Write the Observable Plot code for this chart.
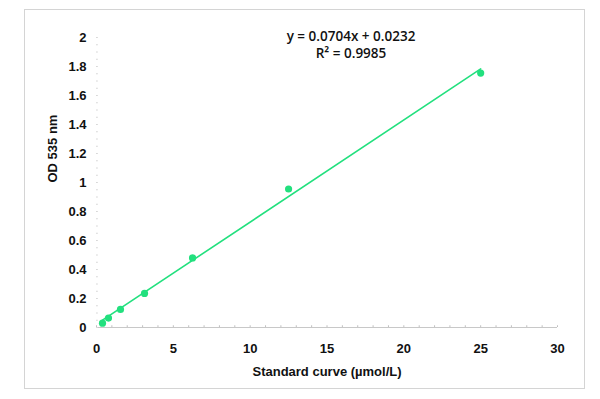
<!DOCTYPE html>
<html><head><meta charset="utf-8">
<script src="https://cdn.jsdelivr.net/npm/d3@7"></script>
<script src="https://cdn.jsdelivr.net/npm/@observablehq/plot@0.6"></script>
<style>
body{margin:0;background:#fff;font-family:"Liberation Sans",Arial,sans-serif;}
#wrap{position:relative;width:600px;height:399px;}
#frame{position:absolute;left:24px;top:9px;width:559px;height:378px;border:1px solid #d4d4d4;pointer-events:none;}
</style></head>
<body><div id="wrap"><div id="frame"></div></div>
<script>
const concentration = [0.39, 0.78, 1.56, 3.125, 6.25, 12.5, 25];
const od = [0.03, 0.065, 0.125, 0.235, 0.48, 0.955, 1.755];
const slope = 0.0704, intercept = 0.0232;
const fitX = [0.39, 25];
const xTicks = [0, 5, 10, 15, 20, 25, 30];
const yTicks = [0, 0.2, 0.4, 0.6, 0.8, 1, 1.2, 1.4, 1.6, 1.8, 2];
const minorX = d3.range(0, 30.01, 1);
const minorY = d3.range(0, 2.001, 0.05);
const equation = "y = 0.0704x + 0.0232";
const r2 = "R² = 0.9985";

const pts = concentration.map((c, i) => ({x: c, y: od[i]}));
const fit = fitX.map(x => ({x, y: slope * x + intercept}));
const green = "#22e07e";

const chart = Plot.plot({
  width: 600, height: 399,
  marginLeft: 96, marginRight: 43, marginTop: 37, marginBottom: 72,
  style: {fontFamily: "'Liberation Sans', Arial, sans-serif", background: "transparent", overflow: "visible"},
  x: {type: "linear", domain: [0, 30], label: null},
  y: {type: "linear", domain: [0, 2], label: null},
  marks: [
    Plot.ruleY([0], {stroke: "#c8c8c8", strokeWidth: 1}),
    Plot.ruleX(minorX, {x: d => d, y1: 0, y2: 0.012, stroke: "#c0c0c0"}),
    Plot.ruleY(minorY, {y: d => d, x1: 0, x2: 0.12, stroke: "#d8d8d8"}),
    Plot.axisX({ticks: xTicks, tickSize: 0, tickPadding: 16, fontSize: 13, fontWeight: "bold", fill: "#111", label: null}),
    Plot.axisY({ticks: yTicks, tickSize: 0, tickPadding: 10, fontSize: 13, fontWeight: "bold", fill: "#111", label: null, tickFormat: d => String(d)}),
    Plot.line(fit, {x: "x", y: "y", stroke: green, strokeWidth: 1.6}),
    Plot.dot(pts, {x: "x", y: "y", r: 3.6, fill: green, stroke: "none"}),
    Plot.text([equation], {frameAnchor: "top", dx: 24, dy: -6, text: d => d, fontSize: 13.5, fontWeight: 600, fill: "#111", fontFamily: "'Open Sans', sans-serif"}),
    Plot.text([r2], {frameAnchor: "top", dx: 24, dy: 11, text: d => d, fontSize: 13.5, fontWeight: 600, fill: "#111", fontFamily: "'Open Sans', sans-serif"}),
    Plot.text(["Standard curve (µmol/L)"], {frameAnchor: "bottom", dy: 48, text: d => d, fontSize: 13, fontWeight: "bold", fill: "#111"}),
    Plot.text(["OD 535 nm"], {frameAnchor: "left", dx: -44, rotate: -90, text: d => d, fontSize: 13, fontWeight: "bold", fill: "#111"})
  ]
});
document.getElementById("wrap").appendChild(chart);
chart.style.position = "absolute";
chart.style.left = "0px";
chart.style.top = "0px";
</script>
</body></html>
